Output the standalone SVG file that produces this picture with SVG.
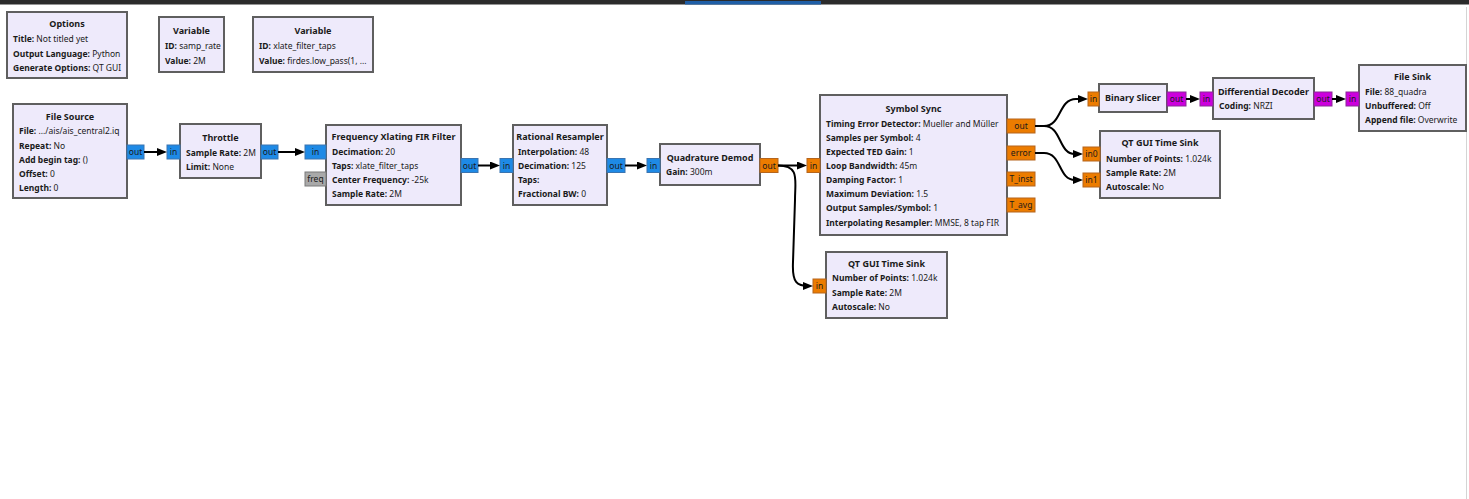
<svg xmlns="http://www.w3.org/2000/svg" width="1469" height="499" viewBox="0 0 1469 499">
<style>
.b{fill:#eeeafb;stroke:#5f5f5f;stroke-width:2}
text{font-family:"Noto Sans","DejaVu Sans",sans-serif;font-size:8.5px;fill:#1a1a1a}
.t{font-weight:bold;text-anchor:middle;font-size:9px}
.k{font-weight:bold}
.pl{text-anchor:middle}
.pb{fill:#1e8ae6;stroke:#3a74b0;stroke-width:1}
.po{fill:#ec7c00;stroke:#b5651d;stroke-width:1}
.pp{fill:#cc00dd;stroke:#8a2a96;stroke-width:1}
.pg{fill:#a9a9a9;stroke:#7a7a7a;stroke-width:1}
.c{fill:none;stroke:#000;stroke-width:2;marker-end:url(#a)}
</style>
<defs>
<marker id="a" markerUnits="userSpaceOnUse" markerWidth="10" markerHeight="8" refX="6" refY="4" orient="auto"><path d="M0,0 L10,4 L0,8 z" fill="#000"/></marker>
</defs>
<rect x="0" y="0" width="1469" height="4.5" fill="#2b2b2b"/>
<rect x="685" y="1" width="136" height="3.5" fill="#1f5ea6"/>
<line x1="1466.5" y1="7" x2="1466.5" y2="499" stroke="#d4d4d4" stroke-width="1"/>

<g id="options">
<rect class="b" x="7" y="12" width="120" height="66"/>
<text class="t" x="67" y="27">Options</text>
<text x="13" y="42"><tspan class="k">Title:</tspan> Not titled yet</text>
<text x="13" y="56.5"><tspan class="k">Output Language:</tspan> Python</text>
<text x="13" y="71"><tspan class="k">Generate Options:</tspan> QT GUI</text>
</g>
<g id="var_samp_rate">
<rect class="b" x="159" y="17" width="65" height="55"/>
<text class="t" x="191.5" y="34">Variable</text>
<text x="165" y="49"><tspan class="k">ID:</tspan> samp_rate</text>
<text x="165" y="64"><tspan class="k">Value:</tspan> 2M</text>
</g>
<g id="var_taps">
<rect class="b" x="253" y="17" width="120" height="55"/>
<text class="t" x="313" y="34">Variable</text>
<text x="259" y="49"><tspan class="k">ID:</tspan> xlate_filter_taps</text>
<text x="259" y="64"><tspan class="k">Value:</tspan> firdes.low_pass(1, ...</text>
</g>

<g id="file_source">
<rect class="b" x="13" y="104" width="114" height="94"/>
<text class="t" x="70" y="120">File Source</text>
<text x="19" y="134"><tspan class="k">File:</tspan> .../ais/ais_central2.iq</text>
<text x="19" y="149"><tspan class="k">Repeat:</tspan> No</text>
<text x="19" y="163"><tspan class="k">Add begin tag:</tspan> ()</text>
<text x="19" y="177"><tspan class="k">Offset:</tspan> 0</text>
<text x="19" y="191"><tspan class="k">Length:</tspan> 0</text>
<rect class="pb" x="127" y="145" width="17" height="14"/>
<text class="pl" x="135.5" y="155">out</text>
</g>

<g id="throttle">
<rect class="b" x="180" y="124" width="81" height="54"/>
<text class="t" x="220.5" y="141">Throttle</text>
<text x="186" y="156"><tspan class="k">Sample Rate:</tspan> 2M</text>
<text x="186" y="170"><tspan class="k">Limit:</tspan> None</text>
<rect class="pb" x="167" y="145" width="13" height="14"/>
<text class="pl" x="173.5" y="155">in</text>
<rect class="pb" x="261" y="145" width="17" height="14"/>
<text class="pl" x="269.5" y="155">out</text>
</g>

<g id="freq_xlating">
<rect class="b" x="326" y="125" width="135" height="80"/>
<text class="t" x="393.5" y="140">Frequency Xlating FIR Filter</text>
<text x="332" y="155"><tspan class="k">Decimation:</tspan> 20</text>
<text x="332" y="169"><tspan class="k">Taps:</tspan> xlate_filter_taps</text>
<text x="332" y="183"><tspan class="k">Center Frequency:</tspan> -25k</text>
<text x="332" y="197"><tspan class="k">Sample Rate:</tspan> 2M</text>
<rect class="pb" x="305" y="145" width="21" height="14"/>
<text class="pl" x="315.5" y="155">in</text>
<rect class="pg" x="305" y="172" width="21" height="14"/>
<text class="pl" x="315.5" y="182">freq</text>
<rect class="pb" x="461" y="158.5" width="17" height="14"/>
<text class="pl" x="469.5" y="168.5">out</text>
</g>

<g id="rational_resampler">
<rect class="b" x="513" y="125" width="94" height="80"/>
<text class="t" x="560" y="140">Rational Resampler</text>
<text x="518" y="155"><tspan class="k">Interpolation:</tspan> 48</text>
<text x="518" y="169"><tspan class="k">Decimation:</tspan> 125</text>
<text x="518" y="183"><tspan class="k">Taps:</tspan></text>
<text x="518" y="197"><tspan class="k">Fractional BW:</tspan> 0</text>
<rect class="pb" x="500" y="158.5" width="13" height="14"/>
<text class="pl" x="506.5" y="168.5">in</text>
<rect class="pb" x="607" y="158.5" width="18" height="14"/>
<text class="pl" x="616" y="168.5">out</text>
</g>

<g id="quad_demod">
<rect class="b" x="660" y="144" width="100" height="41"/>
<text class="t" x="710" y="161">Quadrature Demod</text>
<text x="666" y="175"><tspan class="k">Gain:</tspan> 300m</text>
<rect class="pb" x="647" y="158.5" width="13" height="14"/>
<text class="pl" x="653.5" y="168.5">in</text>
<rect class="po" x="760" y="158.5" width="18" height="14"/>
<text class="pl" x="769" y="168.5">out</text>
</g>

<g id="symbol_sync">
<rect class="b" x="820" y="95" width="187" height="140"/>
<text class="t" x="913.5" y="112">Symbol Sync</text>
<text x="826" y="127"><tspan class="k">Timing Error Detector:</tspan> Mueller and Müller</text>
<text x="826" y="141"><tspan class="k">Samples per Symbol:</tspan> 4</text>
<text x="826" y="155"><tspan class="k">Expected TED Gain:</tspan> 1</text>
<text x="826" y="169"><tspan class="k">Loop Bandwidth:</tspan> 45m</text>
<text x="826" y="183"><tspan class="k">Damping Factor:</tspan> 1</text>
<text x="826" y="197"><tspan class="k">Maximum Deviation:</tspan> 1.5</text>
<text x="826" y="211"><tspan class="k">Output Samples/Symbol:</tspan> 1</text>
<text x="826" y="226"><tspan class="k">Interpolating Resampler:</tspan> MMSE, 8 tap FIR</text>
<rect class="po" x="807" y="158.5" width="13" height="14"/>
<text class="pl" x="813.5" y="168.5">in</text>
<rect class="po" x="1007" y="119" width="28" height="14"/>
<text class="pl" x="1021" y="129">out</text>
<rect class="po" x="1007" y="146" width="28" height="14"/>
<text class="pl" x="1021" y="156">error</text>
<rect class="po" x="1007" y="172" width="28" height="14"/>
<text class="pl" x="1021" y="182">T_inst</text>
<rect class="po" x="1007" y="198" width="28" height="14"/>
<text class="pl" x="1021" y="208">T_avg</text>
</g>

<g id="time_sink_bottom">
<rect class="b" x="826" y="252" width="121" height="66"/>
<text class="t" x="886.5" y="267">QT GUI Time Sink</text>
<text x="832" y="281"><tspan class="k">Number of Points:</tspan> 1.024k</text>
<text x="832" y="296"><tspan class="k">Sample Rate:</tspan> 2M</text>
<text x="832" y="310"><tspan class="k">Autoscale:</tspan> No</text>
<rect class="po" x="813" y="279" width="13" height="14"/>
<text class="pl" x="819.5" y="289">in</text>
</g>

<g id="binary_slicer">
<rect class="b" x="1099" y="84" width="68" height="28"/>
<text class="t" x="1133" y="101">Binary Slicer</text>
<rect class="po" x="1088" y="92" width="11" height="14"/>
<text class="pl" x="1093.5" y="102">in</text>
<rect class="pp" x="1167" y="92" width="19" height="14"/>
<text class="pl" x="1176.5" y="102">out</text>
</g>

<g id="time_sink_right">
<rect class="b" x="1100" y="131" width="120" height="67"/>
<text class="t" x="1160" y="146">QT GUI Time Sink</text>
<text x="1106" y="162"><tspan class="k">Number of Points:</tspan> 1.024k</text>
<text x="1106" y="176"><tspan class="k">Sample Rate:</tspan> 2M</text>
<text x="1106" y="190"><tspan class="k">Autoscale:</tspan> No</text>
<rect class="po" x="1083" y="147" width="17" height="14"/>
<text class="pl" x="1091.5" y="157">in0</text>
<rect class="po" x="1083" y="173" width="17" height="14"/>
<text class="pl" x="1091.5" y="183">in1</text>
</g>

<g id="diff_decoder">
<rect class="b" x="1213" y="78" width="101" height="41"/>
<text class="t" x="1263.5" y="95">Differential Decoder</text>
<text x="1219" y="109"><tspan class="k">Coding:</tspan> NRZI</text>
<rect class="pp" x="1200" y="92" width="13" height="14"/>
<text class="pl" x="1206.5" y="102">in</text>
<rect class="pp" x="1314" y="92" width="18" height="14"/>
<text class="pl" x="1323" y="102">out</text>
</g>

<g id="file_sink">
<rect class="b" x="1359" y="65" width="107" height="66"/>
<text class="t" x="1412.5" y="80">File Sink</text>
<text x="1365" y="95"><tspan class="k">File:</tspan> 88_quadra</text>
<text x="1365" y="109"><tspan class="k">Unbuffered:</tspan> Off</text>
<text x="1365" y="123"><tspan class="k">Append file:</tspan> Overwrite</text>
<rect class="pp" x="1346" y="92" width="13" height="14"/>
<text class="pl" x="1352.5" y="102">in</text>
</g>

<g id="connections">
<path class="c" d="M144 152 H163"/>
<path class="c" d="M278 152 H301"/>
<path class="c" d="M478 165.5 H496"/>
<path class="c" d="M625 165.5 H643"/>
<path class="c" d="M778 165.5 H803"/>
<path class="c" d="M778 165.5 C800 165.5 795 180 795 200 L793 262 C792 283 797 286 809 286"/>
<path class="c" d="M1035 126 H1044 C1062 126 1058 99 1076 99 H1084"/>
<path class="c" d="M1035 126 H1044 C1062 126 1058 154 1075 154 H1079"/>
<path class="c" d="M1035 153 H1044 C1062 153 1058 180 1075 180 H1079"/>
<path class="c" d="M1186 99 H1196"/>
<path class="c" d="M1332 99 H1342"/>
</g>
</svg>
